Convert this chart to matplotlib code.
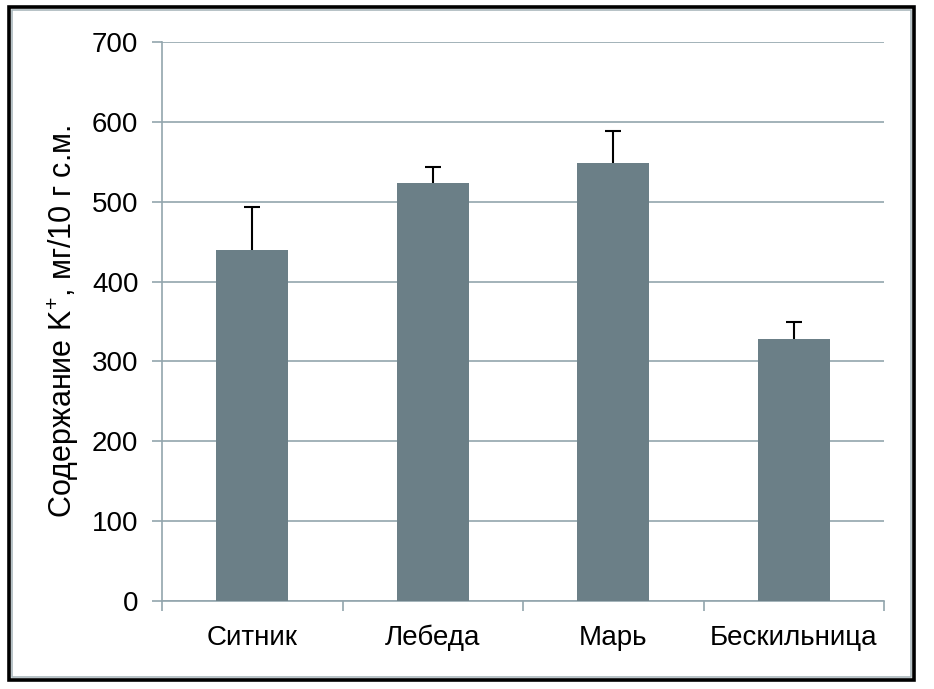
import matplotlib
matplotlib.use("Agg")
import matplotlib.pyplot as plt
from matplotlib.patches import Rectangle
import numpy as np

# данные
categories = ["Ситник", "Лебеда", "Марь", "Бескильница"]
values = [440, 523, 549, 328]
errors = [54, 20, 40, 22]
y_ticks = [0, 100, 200, 300, 400, 500, 600, 700]

plt.rcParams['font.family'] = ['Liberation Sans', 'DejaVu Sans']
plt.rcParams['mathtext.fontset'] = 'custom'
plt.rcParams['mathtext.rm'] = 'Liberation Sans'
plt.rcParams['mathtext.default'] = 'regular'

W, H = 934, 689
fig = plt.figure(figsize=(W / 100, H / 100), dpi=100)
ax = fig.add_axes([162 / W, 1 - 601 / H, (884 - 162) / W, (601 - 42) / H])

bar_col = '#6b7f87'
grid_col = '#92a5ad'

x = np.arange(len(categories))
ax.bar(x, values, width=0.4, color=bar_col, zorder=3)
eb = ax.errorbar(x, values, yerr=[np.zeros(len(errors)), errors], fmt='none',
                 ecolor='black', elinewidth=1.5, capsize=5.5, capthick=1.5, zorder=4)
# только верхние усы: прячем нижние засечки
for cl in eb[1]:
    if np.allclose(cl.get_ydata(), values):
        cl.set_visible(False)

ax.set_xlim(-0.5, len(categories) - 0.5)
ax.set_ylim(0, 700)
ax.set_yticks(y_ticks)
ax.yaxis.grid(True, color=grid_col, linewidth=1.2, zorder=0)
ax.set_axisbelow(True)

# подписи категорий по центру, риски на границах
ax.set_xticks(x)
ax.set_xticklabels(categories, fontsize=20)
ax.set_xticks(np.arange(-0.5, len(categories), 1.0), minor=True)
ax.tick_params(axis='x', which='major', length=0, pad=17)
ax.tick_params(axis='x', which='minor', length=7, width=1.2, color=grid_col)
ax.tick_params(axis='y', length=7, width=1.2, color=grid_col, labelsize=20, pad=10)

for s in ['top', 'right']:
    ax.spines[s].set_visible(False)
for s in ['left', 'bottom']:
    ax.spines[s].set_color(grid_col)
    ax.spines[s].set_linewidth(1.2)

ax.set_ylabel('Содержание K$^{+}$, мг/10 г с.м.', fontsize=22)
ax.yaxis.set_label_coords(-0.112, 0.5)

# рамка рисунка
fig.patches.append(Rectangle((8.5 / W, 1 - 680 / H), (914 - 8.5) / W, (680 - 6.5) / H,
                             transform=fig.transFigure, fill=False,
                             edgecolor='black', linewidth=2.6))
fig.patches.append(Rectangle((11.5 / W, 1 - 677 / H), (910.5 - 11.5) / W, (677 - 9.5) / H,
                             transform=fig.transFigure, fill=False,
                             edgecolor='#a3b2b7', linewidth=1.1))

fig.savefig('out.png', dpi=100)
